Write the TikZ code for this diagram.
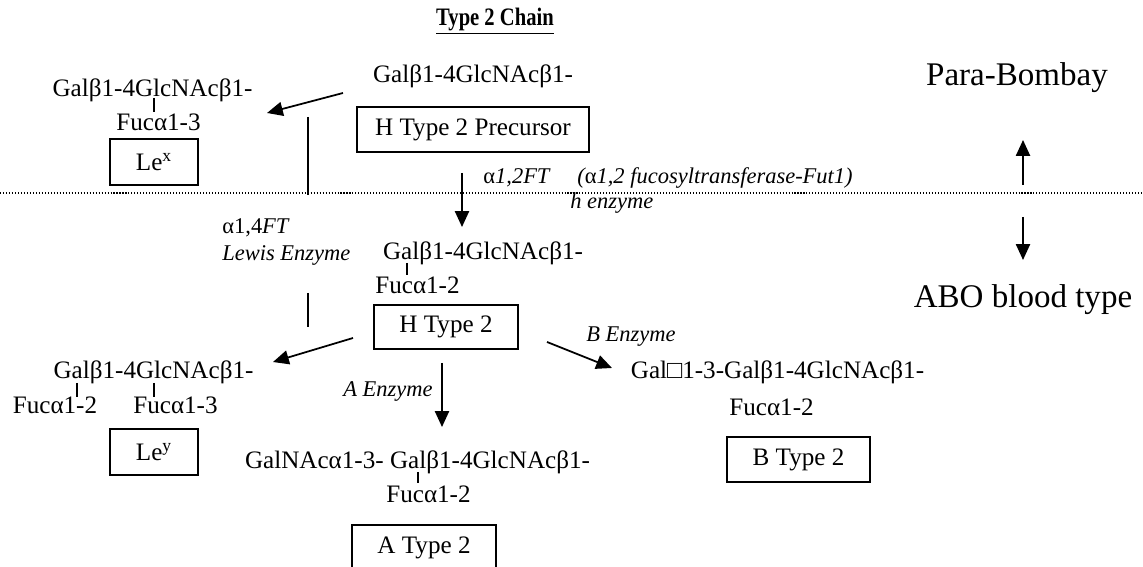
\documentclass[tikz,border=0pt]{standalone}
\usepackage{fontspec}
\setmainfont{Liberation Serif}
\usepackage{tikz}
\usetikzlibrary{arrows.meta}

\begin{document}
\begin{tikzpicture}[x=0.02cm, y=-0.02cm,
	every node/.style={inner sep=0pt, font=\fontsize{14.3}{17}\selectfont},
	chain/.style={anchor=center},
	namebox/.style={draw, line width=1pt, minimum height=0.9cm},
	enz/.style={anchor=west, font=\fontsize{12.8}{15}\selectfont\itshape},
	side/.style={font=\fontsize{18.8}{22}\selectfont},
	step arrow/.style={line width=1pt, -{Triangle[length=9pt,width=8pt]}},
	bond/.style={line width=0.6pt},
	split/.style={line width=0.6pt, dash pattern=on 0.6pt off 1.1pt}]
\useasboundingbox (0,0) rectangle (1143,567);
\node[xscale=0.82, transform shape] (title) at (495,21) {\underline{\textbf{Type 2 Chain}}};
\node[chain] (p1) at (473,76) {Galβ1-4GlcNAcβ1-};
\node[namebox, minimum width=4.64cm] (prec) at (473,129.5) {H Type 2 Precursor};
\node[chain] (x1) at (152.5,90) {Galβ1-4GlcNAcβ1-};
\node[chain] (x2) at (158.5,122) {Fucα1-3};
\node[namebox, minimum width=1.76cm, minimum height=0.92cm] (lex) at (154,162) {Le\textsuperscript{x}};
\node[enz] (ft14a) at (222,228) {\upshape α1,4\itshape FT};
\node[enz] (ft14b) at (222,255) {Lewis Enzyme};
\node[enz] (ft12) at (483,178) {\upshape α\itshape 1,2FT};
\node[enz] (fut1) at (577,178) {(\upshape α\itshape 1,2 fucosyltransferase-Fut1)};
\node[enz] (henz) at (570,203) {h enzyme};
\node[chain] (h1) at (483,253) {Galβ1-4GlcNAcβ1-};
\node[chain] (h2) at (417.5,285) {Fucα1-2};
\node[namebox, minimum width=2.88cm, minimum height=0.88cm] (htype) at (446,327) {H Type 2};
\node[chain] (y1) at (153.5,372) {Galβ1-4GlcNAcβ1-};
\node[chain] (y2) at (55,405) {Fucα1-2};
\node[chain] (y3) at (175.5,405) {Fucα1-3};
\node[namebox, minimum width=1.76cm, minimum height=0.92cm] (ley) at (154,452) {Le\textsuperscript{y}};
\node[enz, anchor=east] (aenz) at (433,392) {A Enzyme};
\node[enz] (benz) at (586,337) {B Enzyme};
\node[chain] (a1) at (417.5,462) {GalNAcα1-3- Galβ1-4GlcNAcβ1-};
\node[chain] (a2) at (428.5,494) {Fucα1-2};
\node[namebox, minimum width=2.88cm, minimum height=0.92cm] (atype) at (424,548) {A Type 2};
\node[chain] (b1) at (777.5,372) {Gal□1-3-Galβ1-4GlcNAcβ1-};
\node[chain] (b2) at (771.5,407) {Fucα1-2};
\node[namebox, minimum width=2.86cm] (btype) at (798.5,459.5) {B Type 2};
\node[side] (para) at (1017,78) {Para-Bombay};
\node[side] (abo) at (1023,300) {ABO blood type};
\coordinate (lexs) at (343,93);
\coordinate (lexe) at (267,113);
\coordinate (ft12s) at (462,173);
\coordinate (ft12e) at (462,227);
\coordinate (lwa) at (308,117);
\coordinate (lwb) at (308,195);
\coordinate (lwc) at (308,293);
\coordinate (lwd) at (308,327);
\coordinate (leys) at (353,338);
\coordinate (leye) at (273,362);
\coordinate (as) at (442,363);
\coordinate (ae) at (442,427);
\coordinate (bs) at (547,342);
\coordinate (be) at (612,368);
\coordinate (ups) at (1023,185);
\coordinate (upe) at (1023,140);
\coordinate (dns) at (1023,217);
\coordinate (dne) at (1023,260);
\coordinate (divl) at (0,193);
\coordinate (divr) at (1143,193);
\draw[split] (divl) -- (divr);
\draw[step arrow] (lexs) -- (lexe);
\draw[step arrow] (ft12s) -- (ft12e);
\draw[step arrow] (leys) -- (leye);
\draw[step arrow] (as) -- (ae);
\draw[step arrow] (bs) -- (be);
\draw[step arrow] (ups) -- (upe);
\draw[step arrow] (dns) -- (dne);
\draw[line width=0.7pt] (lwa) -- (lwb);
\draw[line width=0.7pt] (lwc) -- (lwd);
% glycosidic branch ticks
\draw[bond] (154,98) -- (154,112);
\draw[bond] (407,263) -- (407,275);
\draw[bond] (77,383) -- (77,397);
\draw[bond] (154,383) -- (154,397);
\draw[bond] (418,472) -- (418,483);
\end{tikzpicture}
\end{document}
